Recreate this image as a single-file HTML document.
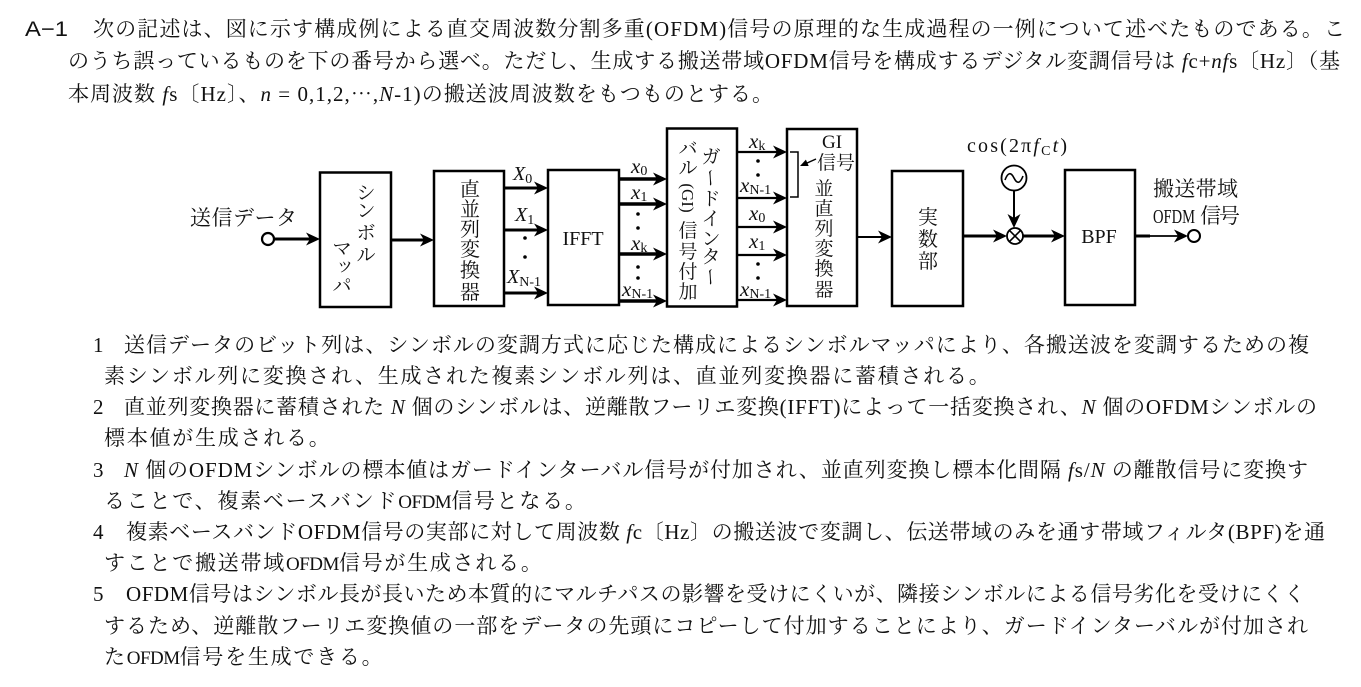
<!DOCTYPE html>
<html lang="ja">
<head>
<meta charset="utf-8">
<style>
  html,body{margin:0;padding:0;background:#fff;}
  body{width:1361px;height:687px;overflow:hidden;}
  svg{display:block;}
  text{font-family:"Liberation Serif","Noto Serif CJK SC",serif;font-size:21px;fill:#111;}
  .d{font-size:19px;}
  .d20{font-size:20px;}
  .it{font-style:italic;}
  .sub{font-size:14px;font-style:normal;}
  .sh{letter-spacing:1.75px;}
  .nar{font-size:19px;letter-spacing:-0.5px;}
  .box{fill:none;stroke:#000;stroke-width:2.5;}
  .ln{stroke:#000;fill:none;}
  .hd{fill:#000;stroke:none;}
</style>
</head>
<body>
<svg lang="ja" width="1361" height="687" viewBox="0 0 1361 687" xmlns="http://www.w3.org/2000/svg">
  <rect x="0" y="0" width="1361" height="687" fill="#fff"/>

  <!-- ===== Question text ===== -->
  <text x="25" y="36" style="font-family:'Liberation Sans','Noto Sans CJK JP',sans-serif" textLength="43" lengthAdjust="spacingAndGlyphs">A−1</text>
  <text x="93" y="36" textLength="1252" lengthAdjust="spacing">次の記述は、図に示す構成例による直交周波数分割多重(OFDM)信号の原理的な生成過程の一例について述べたものである。こ</text>
  <text x="68" y="68" textLength="1272" lengthAdjust="spacing">のうち誤っているものを下の番号から選べ。ただし、生成する搬送帯域OFDM信号を構成するデジタル変調信号は <tspan class="it">f</tspan>c+<tspan class="it">nf</tspan>s〔Hz〕（基</text>
  <text x="68" y="101" textLength="705" lengthAdjust="spacing">本周波数 <tspan class="it">f</tspan>s〔Hz〕、<tspan class="it">n</tspan> = 0,1,2,⋯,<tspan class="it">N</tspan>-1)の搬送波周波数をもつものとする。</text>

  <!-- ===== Options ===== -->
  <text x="93" y="352">1</text>
  <text x="124" y="352" textLength="1185" lengthAdjust="spacing">送信データのビット列は、シンボルの変調方式に応じた構成によるシンボルマッパにより、各搬送波を変調するための複</text>
  <text x="104" y="383" class="sh">素シンボル列に変換され、生成された複素シンボル列は、直並列変換器に蓄積される。</text>

  <text x="93" y="414">2</text>
  <text x="124" y="414" textLength="1193" lengthAdjust="spacing">直並列変換器に蓄積された <tspan class="it">N</tspan> 個のシンボルは、逆離散フーリエ変換(IFFT)によって一括変換され、<tspan class="it">N</tspan> 個のOFDMシンボルの</text>
  <text x="104" y="445" class="sh">標本値が生成される。</text>

  <text x="93" y="477">3</text>
  <text x="124" y="477" textLength="1184" lengthAdjust="spacing"><tspan class="it">N</tspan> 個のOFDMシンボルの標本値はガードインターバル信号が付加され、並直列変換し標本化間隔 <tspan class="it">f</tspan>s/<tspan class="it">N</tspan> の離散信号に変換す</text>
  <text x="104" y="508" class="sh">ることで、複素ベースバンド<tspan class="nar">OFDM</tspan>信号となる。</text>

  <text x="93" y="539">4</text>
  <text x="126" y="539" textLength="1199" lengthAdjust="spacing">複素ベースバンドOFDM信号の実部に対して周波数 <tspan class="it">f</tspan>c〔Hz〕の搬送波で変調し、伝送帯域のみを通す帯域フィルタ(BPF)を通</text>
  <text x="104" y="570" class="sh">すことで搬送帯域<tspan class="nar">OFDM</tspan>信号が生成される。</text>

  <text x="93" y="601">5</text>
  <text x="126" y="601" textLength="1179" lengthAdjust="spacing">OFDM信号はシンボル長が長いため本質的にマルチパスの影響を受けにくいが、隣接シンボルによる信号劣化を受けにくく</text>
  <text x="104" y="633" textLength="1204" lengthAdjust="spacing">するため、逆離散フーリエ変換値の一部をデータの先頭にコピーして付加することにより、ガードインターバルが付加され</text>
  <text x="104" y="664" class="sh">た<tspan class="nar">OFDM</tspan>信号を生成できる。</text>

  <!-- ===== Diagram boxes ===== -->
  <rect class="box" x="320" y="172.5" width="71" height="134.5"/>
  <rect class="box" x="434" y="171" width="70" height="135"/>
  <rect class="box" x="548" y="170" width="71" height="135"/>
  <rect class="box" x="667" y="128.5" width="70" height="178"/>
  <rect class="box" x="787" y="129" width="70" height="177"/>
  <rect class="box" x="892" y="171" width="71" height="135"/>
  <rect class="box" x="1065" y="170" width="70" height="135"/>

  <!-- input -->
  <text x="190" y="225" textLength="107" lengthAdjust="spacing">送信データ</text>
  <circle cx="268" cy="239" r="6" fill="#fff" stroke="#000" stroke-width="2.2"/>
  <line class="ln" x1="274" y1="239" x2="310" y2="239" stroke-width="3"/>
  <polygon class="hd" points="320,239 306,232.5 310,239 306,245.5"/>

  <!-- symbol mapper text -->
  <text class="d" x="366" y="199" text-anchor="middle">シ</text>
  <text class="d" x="366" y="217" text-anchor="middle">ン</text>
  <text class="d" x="366" y="239" text-anchor="middle">ボ</text>
  <text class="d" x="366" y="261" text-anchor="middle">ル</text>
  <text class="d" x="342" y="255" text-anchor="middle">マ</text>
  <text class="d" x="345" y="271" text-anchor="middle">ッ</text>
  <text class="d" x="342" y="292" text-anchor="middle">パ</text>

  <line class="ln" x1="391" y1="240" x2="424" y2="240" stroke-width="3"/>
  <polygon class="hd" points="434,240 420,233.5 424,240 420,246.5"/>

  <!-- S/P converter text -->
  <text class="d20" x="470" y="196" text-anchor="middle">直</text>
  <text class="d20" x="470" y="216" text-anchor="middle">並</text>
  <text class="d20" x="470" y="236" text-anchor="middle">列</text>
  <text class="d20" x="470" y="256" text-anchor="middle">変</text>
  <text class="d20" x="470" y="277" text-anchor="middle">換</text>
  <text class="d20" x="470" y="299" text-anchor="middle">器</text>

  <!-- X arrows -->
  <line class="ln" x1="504" y1="188" x2="538" y2="188" stroke-width="3"/>
  <polygon class="hd" points="548,188 534,181.5 538,188 534,194.5"/>
  <line class="ln" x1="504" y1="230" x2="538" y2="230" stroke-width="3"/>
  <polygon class="hd" points="548,230 534,223.5 538,230 534,236.5"/>
  <line class="ln" x1="504" y1="293" x2="538" y2="293" stroke-width="3"/>
  <polygon class="hd" points="548,293 534,286.5 538,293 534,299.5"/>
  <text x="513" y="180" style="font-size:20px" class="it">X<tspan class="sub" dy="3">0</tspan></text>
  <text x="515" y="221" style="font-size:20px" class="it">X<tspan class="sub" dy="3">1</tspan></text>
  <circle cx="525" cy="238" r="1.8" fill="#000"/>
  <circle cx="525" cy="257" r="1.8" fill="#000"/>
  <text x="507" y="283" style="font-size:20px" class="it">X<tspan class="sub" dy="3">N-1</tspan></text>

  <!-- IFFT -->
  <text x="583" y="245" text-anchor="middle" style="font-size:20px">IFFT</text>

  <!-- IFFT outputs -->
  <line class="ln" x1="619" y1="179" x2="657" y2="179" stroke-width="3.5"/>
  <polygon class="hd" points="667,179 653,172.5 657,179 653,185.5"/>
  <line class="ln" x1="619" y1="204" x2="657" y2="204" stroke-width="3.5"/>
  <polygon class="hd" points="667,204 653,197.5 657,204 653,210.5"/>
  <line class="ln" x1="619" y1="254" x2="657" y2="254" stroke-width="3.5"/>
  <polygon class="hd" points="667,254 653,247.5 657,254 653,260.5"/>
  <line class="ln" x1="619" y1="301" x2="657" y2="301" stroke-width="3.5"/>
  <polygon class="hd" points="667,301 653,294.5 657,301 653,307.5"/>
  <text x="631" y="173" style="font-size:21px" class="it">x<tspan class="sub" dy="2">0</tspan></text>
  <text x="631" y="199" style="font-size:21px" class="it">x<tspan class="sub" dy="2">1</tspan></text>
  <circle cx="638" cy="214" r="1.8" fill="#000"/>
  <circle cx="638" cy="228" r="1.8" fill="#000"/>
  <text x="631" y="250" style="font-size:21px" class="it">x<tspan class="sub" dy="2">k</tspan></text>
  <circle cx="638" cy="267" r="1.8" fill="#000"/>
  <circle cx="638" cy="278" r="1.8" fill="#000"/>
  <text x="622" y="296" style="font-size:21px" class="it">x<tspan class="sub" dy="2">N-1</tspan></text>

  <!-- GI insertion text: right column -->
  <text class="d" x="711" y="163" text-anchor="middle">ガ</text>
  <text class="d" x="711" y="185" text-anchor="middle" transform="rotate(90 711 178)">ー</text>
  <text class="d" x="711" y="205" text-anchor="middle">ド</text>
  <text class="d" x="711" y="225" text-anchor="middle">イ</text>
  <text class="d" x="711" y="245" text-anchor="middle">ン</text>
  <text class="d" x="711" y="263" text-anchor="middle">タ</text>
  <text class="d" x="711" y="284" text-anchor="middle" transform="rotate(90 711 277)">ー</text>
  <!-- left column -->
  <text class="d" x="688" y="155" text-anchor="middle">バ</text>
  <text class="d" x="688" y="174" text-anchor="middle">ル</text>
  <text x="688" y="204" text-anchor="middle" style="font-size:17px" transform="rotate(90 688 198)">(GI)</text>
  <text class="d" x="688" y="237" text-anchor="middle">信</text>
  <text class="d" x="688" y="258" text-anchor="middle">号</text>
  <text class="d" x="688" y="278" text-anchor="middle">付</text>
  <text class="d" x="688" y="298" text-anchor="middle">加</text>

  <!-- GI outputs -->
  <line class="ln" x1="737" y1="152" x2="777" y2="152" stroke-width="2.2"/>
  <polygon class="hd" points="787,152 773,145.5 777,152 773,158.5"/>
  <line class="ln" x1="737" y1="198" x2="777" y2="198" stroke-width="2.2"/>
  <polygon class="hd" points="787,198 773,191.5 777,198 773,204.5"/>
  <line class="ln" x1="737" y1="227" x2="777" y2="227" stroke-width="2.2"/>
  <polygon class="hd" points="787,227 773,220.5 777,227 773,233.5"/>
  <line class="ln" x1="737" y1="255" x2="777" y2="255" stroke-width="2.2"/>
  <polygon class="hd" points="787,255 773,248.5 777,255 773,261.5"/>
  <line class="ln" x1="737" y1="300" x2="777" y2="300" stroke-width="2.2"/>
  <polygon class="hd" points="787,300 773,293.5 777,300 773,306.5"/>
  <text x="749" y="148" style="font-size:21px" class="it">x<tspan class="sub" dy="2">k</tspan></text>
  <circle cx="758" cy="161" r="1.8" fill="#000"/>
  <circle cx="758" cy="175" r="1.8" fill="#000"/>
  <text x="740" y="192" style="font-size:21px" class="it">x<tspan class="sub" dy="2">N-1</tspan></text>
  <text x="749" y="220" style="font-size:21px" class="it">x<tspan class="sub" dy="2">0</tspan></text>
  <text x="749" y="248" style="font-size:21px" class="it">x<tspan class="sub" dy="2">1</tspan></text>
  <circle cx="758" cy="264" r="1.8" fill="#000"/>
  <circle cx="758" cy="278" r="1.8" fill="#000"/>
  <text x="740" y="296" style="font-size:21px" class="it">x<tspan class="sub" dy="2">N-1</tspan></text>

  <!-- P/S converter -->
  <text x="832" y="148" text-anchor="middle" style="font-size:19px">GI</text>
  <text x="836" y="169" text-anchor="middle" style="font-size:19px">信号</text>
  <polyline class="ln" points="790,152 798,152 798,197 790,197" stroke-width="1.5"/>
  <line class="ln" x1="816" y1="159" x2="806" y2="163.5" stroke-width="1.5"/>
  <polygon class="hd" points="800,166 808.7,166 805.9,159.6"/>
  <text class="d" x="824" y="195" text-anchor="middle">並</text>
  <text class="d" x="824" y="215" text-anchor="middle">直</text>
  <text class="d" x="824" y="235" text-anchor="middle">列</text>
  <text class="d" x="824" y="255" text-anchor="middle">変</text>
  <text class="d" x="824" y="275" text-anchor="middle">換</text>
  <text class="d" x="824" y="296" text-anchor="middle">器</text>

  <line class="ln" x1="857" y1="237" x2="882" y2="237" stroke-width="2"/>
  <polygon class="hd" points="892,237 878,230.5 882,237 878,243.5"/>

  <!-- real part -->
  <text class="d20" x="928" y="224" text-anchor="middle">実</text>
  <text class="d20" x="928" y="246" text-anchor="middle">数</text>
  <text class="d20" x="928" y="268" text-anchor="middle">部</text>

  <line class="ln" x1="963" y1="236" x2="997" y2="236" stroke-width="3"/>
  <polygon class="hd" points="1007,236 993,229.5 997,236 993,242.5"/>

  <!-- mixer -->
  <circle cx="1015" cy="236" r="8" fill="#fff" stroke="#000" stroke-width="1.8"/>
  <line class="ln" x1="1009.3" y1="230.3" x2="1020.7" y2="241.7" stroke-width="1.6"/>
  <line class="ln" x1="1020.7" y1="230.3" x2="1009.3" y2="241.7" stroke-width="1.6"/>

  <!-- oscillator -->
  <text x="967" y="152" textLength="100" lengthAdjust="spacing" style="font-size:20px">cos(2π<tspan class="it">f</tspan><tspan class="sub" dy="3">C</tspan><tspan class="it" dy="-3">t</tspan>)</text>
  <circle cx="1014" cy="178" r="12.5" fill="#fff" stroke="#000" stroke-width="1.8"/>
  <path class="ln" d="M1005,180 C1008,172 1011,172 1014,178 S1020,184 1023,176" stroke-width="1.6"/>
  <line class="ln" x1="1014" y1="190.5" x2="1014" y2="218" stroke-width="2"/>
  <polygon class="hd" points="1014,228 1007.5,214 1014,218 1020.5,214"/>

  <line class="ln" x1="1023" y1="236" x2="1055" y2="236" stroke-width="3"/>
  <polygon class="hd" points="1065,236 1051,229.5 1055,236 1051,242.5"/>

  <!-- BPF -->
  <text x="1099" y="243" text-anchor="middle" style="font-size:20px">BPF</text>
  <line class="ln" x1="1135" y1="236" x2="1150" y2="236" stroke-width="3"/>
  <line class="ln" x1="1150" y1="236" x2="1178" y2="236" stroke-width="1.8"/>
  <polygon class="hd" points="1188,236 1174,229.5 1178,236 1174,242.5"/>
  <circle cx="1194" cy="236" r="6" fill="#fff" stroke="#000" stroke-width="2"/>
  <text x="1153" y="196" textLength="85" lengthAdjust="spacing">搬送帯域</text>
  <text x="1153" y="223" textLength="42" lengthAdjust="spacingAndGlyphs" style="font-size:20px">OFDM</text>
  <text x="1200" y="223" textLength="40" lengthAdjust="spacing">信号</text>
</svg>
</body>
</html>
